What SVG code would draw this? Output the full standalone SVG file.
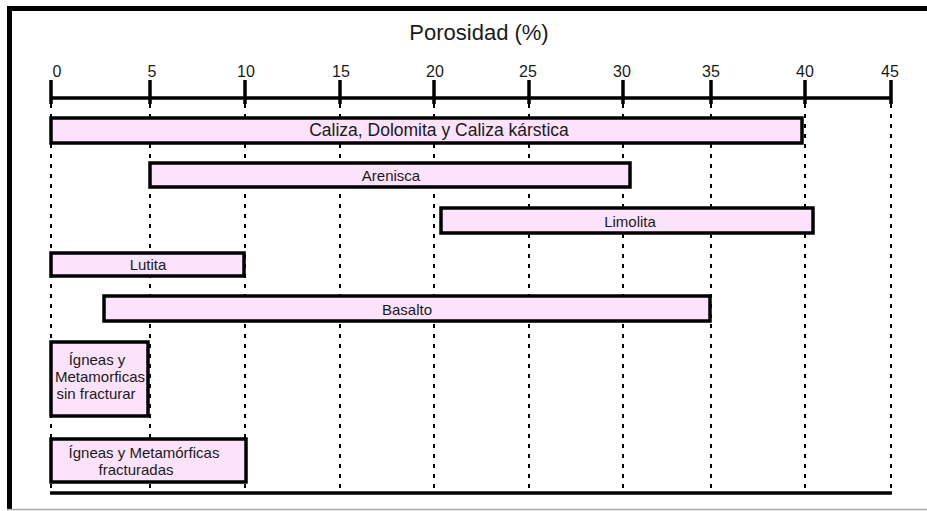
<svg xmlns="http://www.w3.org/2000/svg" width="927" height="511" viewBox="0 0 927 511">
<style>
.t{font-family:"Liberation Sans",Arial,sans-serif;fill:#1a1a1a}
.bar{fill:#fde2fc;stroke:#000;stroke-width:3.5}
.grid{stroke:#000;stroke-width:2;stroke-dasharray:4 6;fill:none}
.tick{stroke:#000;stroke-width:3.5}
</style>
<rect x="0" y="0" width="927" height="511" fill="#fff"/>
<!-- frame -->
<rect x="7" y="6" width="920" height="5" fill="#000"/>
<rect x="7" y="6" width="5" height="503" fill="#000"/>
<line x1="7" y1="509.5" x2="927" y2="509.5" stroke="#aaa" stroke-width="1.5"/>
<text class="t" x="479" y="40" font-size="22" text-anchor="middle">Porosidad (%)</text>
<g id="connectors">
<g id="grid">
<line class="grid" x1="51" y1="104" x2="51" y2="492"/>
<line class="grid" x1="150" y1="104" x2="150" y2="492"/>
<line class="grid" x1="245" y1="104" x2="245" y2="492"/>
<line class="grid" x1="340" y1="104" x2="340" y2="492"/>
<line class="grid" x1="434" y1="104" x2="434" y2="492"/>
<line class="grid" x1="529" y1="104" x2="529" y2="492"/>
<line class="grid" x1="623" y1="104" x2="623" y2="492"/>
<line class="grid" x1="711" y1="104" x2="711" y2="492"/>
<line class="grid" x1="805" y1="104" x2="805" y2="492"/>
<line class="grid" x1="891" y1="104" x2="891" y2="492"/>
</g>
<g id="axis">
<line x1="50" y1="98" x2="892" y2="98" stroke="#000" stroke-width="3.5"/>
<line class="tick" x1="51" y1="80" x2="51" y2="104"/>
<line class="tick" x1="150" y1="80" x2="150" y2="104"/>
<line class="tick" x1="245" y1="80" x2="245" y2="104"/>
<line class="tick" x1="340" y1="80" x2="340" y2="104"/>
<line class="tick" x1="434" y1="80" x2="434" y2="104"/>
<line class="tick" x1="529" y1="80" x2="529" y2="104"/>
<line class="tick" x1="623" y1="80" x2="623" y2="104"/>
<line class="tick" x1="711" y1="80" x2="711" y2="104"/>
<line class="tick" x1="805" y1="80" x2="805" y2="104"/>
<line class="tick" x1="891" y1="80" x2="891" y2="104"/>
<line x1="50" y1="493" x2="892" y2="493" stroke="#000" stroke-width="3.5"/>
</g>
</g>
<g id="labels" class="t" font-size="16" text-anchor="middle">
<text x="57" y="77">0</text>
<text x="152" y="77">5</text>
<text x="246" y="77">10</text>
<text x="341" y="77">15</text>
<text x="435" y="77">20</text>
<text x="528" y="77">25</text>
<text x="622" y="77">30</text>
<text x="711" y="77">35</text>
<text x="805" y="77">40</text>
<text x="890" y="77">45</text>
</g>
<g id="caliza">
<rect class="bar" x="51" y="118" width="751" height="25"/>
<text class="t" x="439" y="136" font-size="17.5" text-anchor="middle">Caliza, Dolomita y Caliza kárstica</text>
</g>
<g id="arenisca">
<rect class="bar" x="150" y="163" width="480" height="24"/>
<text class="t" x="391" y="181" font-size="15" text-anchor="middle">Arenisca</text>
</g>
<g id="limolita">
<rect class="bar" x="441" y="208" width="372" height="25"/>
<text class="t" x="630" y="227" font-size="15" text-anchor="middle">Limolita</text>
</g>
<g id="lutita">
<rect class="bar" x="51" y="253" width="193" height="23"/>
<text class="t" x="148" y="270" font-size="15" text-anchor="middle">Lutita</text>
</g>
<g id="basalto">
<rect class="bar" x="104" y="296" width="606" height="25"/>
<text class="t" x="407" y="315" font-size="15" text-anchor="middle">Basalto</text>
</g>
<g id="ignea-sin">
<rect class="bar" x="51" y="342" width="97" height="74"/>
<text class="t" font-size="15" text-anchor="middle"><tspan x="97" y="365">Ígneas y</tspan><tspan x="100" y="382">Metamorficas</tspan><tspan x="96" y="399">sin fracturar</tspan></text>
</g>
<g id="ignea-frac">
<rect class="bar" x="51" y="439" width="195" height="43"/>
<text class="t" font-size="15" text-anchor="middle"><tspan x="144" y="458">Ígneas y Metamórficas</tspan><tspan x="136" y="475">fracturadas</tspan></text>
</g>
</svg>
